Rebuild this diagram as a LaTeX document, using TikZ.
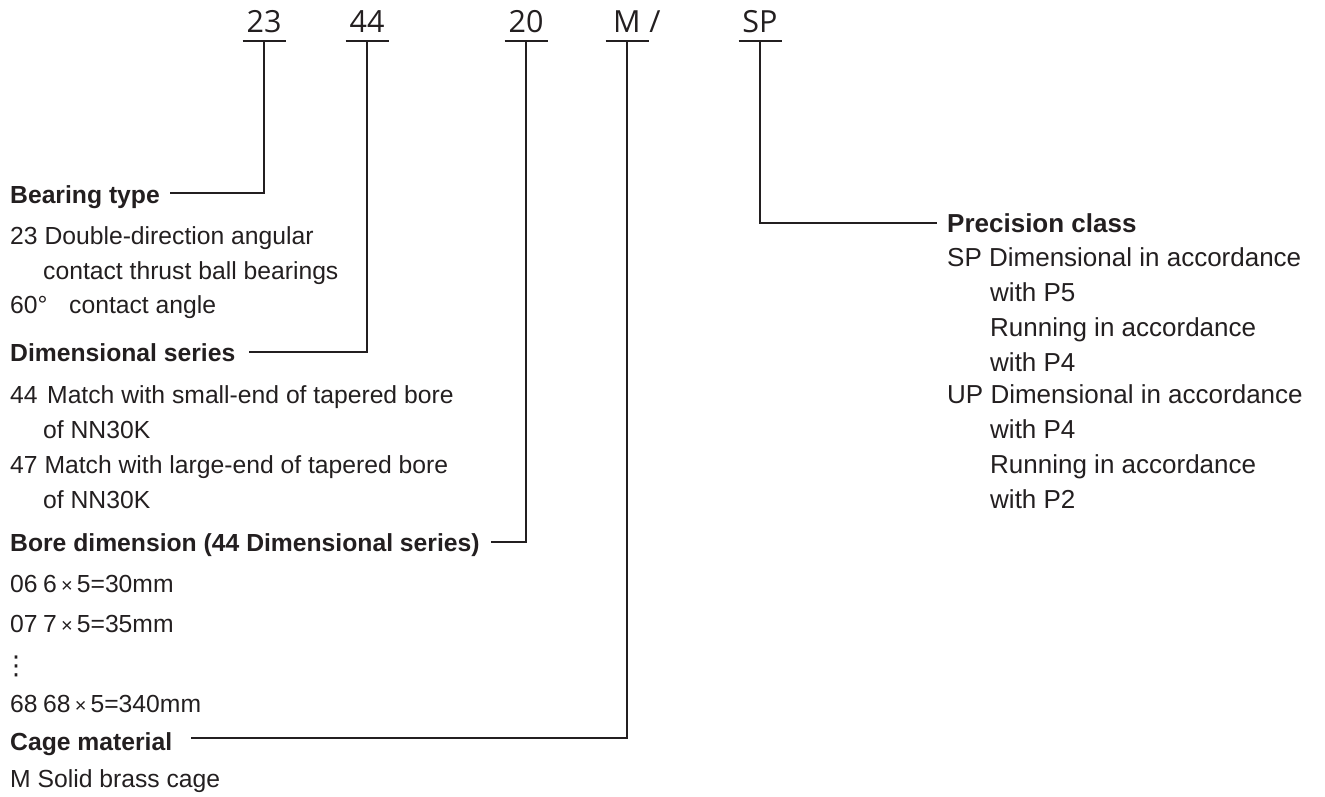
\documentclass[tikz,border=0pt]{standalone}
\usepackage{fontspec}
\setmainfont{Liberation Sans}
\newfontfamily\codefont{Open Sans}
\newfontfamily\symfont{DejaVu Sans}
\usetikzlibrary{calc}
\definecolor{ink}{RGB}{35,31,32}
\begin{document}
\begin{tikzpicture}[x=1pt,y=-1pt,
  txt/.style={anchor=base west,inner sep=0,text=ink,font=\fontsize{24.7}{30}\selectfont},
  head/.style={anchor=base west,inner sep=0,text=ink,font=\fontsize{24.7}{30}\selectfont\bfseries},
  rtxt/.style={anchor=base west,inner sep=0,text=ink,font=\fontsize{26}{30}\selectfont},
  rhead/.style={anchor=base west,inner sep=0,text=ink,font=\fontsize{26}{30}\selectfont\bfseries},
  code/.style={anchor=base,inner sep=0,text=ink,font=\codefont\fontsize{30.5}{36}\selectfont},
  wire/.style={draw=ink,line width=2pt},
  uline/.style={draw=ink,line width=2pt}]
\useasboundingbox (0,0) rectangle (1325,796);

% ---- code letters on top ----
\node[code] (c23) at (264,32) {23};
\node[code] (c44) at (367,32) {44};
\node[code] (c20) at (526,32) {20};
\node[code] (cM)  at (627,32) {M};
\node[code] (cSl) at (655,32) {/};
\node[code] (cSP) at (760,32) {SP};
\coordinate (u23) at (264,41);
\coordinate (u44) at (367,41);
\coordinate (u20) at (526,41);
\coordinate (uM)  at (627,41);
\coordinate (uSP) at (760,41);
\foreach \u in {u23,u44,u20,uM,uSP}
  \draw[uline] ([xshift=-21.5pt]\u) -- ([xshift=21.5pt]\u);

% ---- left column ----
\node[head] (bt) at (10,203) {Bearing type};
\node[txt] (bt1) at (10,244) {23 Double-direction angular};
\node[txt] (bt2) at (43,279) {contact thrust ball bearings};
\node[txt] (bt3) at (10,313) {\makebox[59pt][l]{60°}contact angle};

\node[head] (ds) at (10,361) {Dimensional series};
\node[txt] (ds1) at (10,403) {\makebox[37pt][l]{44}Match with small-end of tapered bore};
\node[txt] (ds2) at (43,438) {of NN30K};
\node[txt] (ds3) at (10,473) {47 Match with large-end of tapered bore};
\node[txt] (ds4) at (43,508) {of NN30K};

\node[head] (bd) at (10,551) {Bore dimension (44 Dimensional series)};
\node[txt] (bd1) at (10,592) {\makebox[33pt][l]{06}6\,{\fontsize{20}{20}\selectfont×}\,5=30mm};
\node[txt] (bd2) at (10,632) {\makebox[33pt][l]{07}7\,{\fontsize{20}{20}\selectfont×}\,5=35mm};
\node[txt] (bd3) at (3,674) {\symfont\fontsize{26}{26}\selectfont ⋮};
\node[txt] (bd4) at (10,712) {\makebox[33pt][l]{68}68\,{\fontsize{20}{20}\selectfont×}\,5=340mm};

\node[head] (cm) at (10,750) {Cage material};
\node[txt] (cm1) at (10,787) {M Solid brass cage};

% ---- right column ----
\node[rhead] (pc) at (947,232) {Precision class};
\node[rtxt] (pc1) at (947,266) {SP Dimensional in accordance};
\node[rtxt] (pc2) at (990,301) {with P5};
\node[rtxt] (pc3) at (990,336) {Running in accordance};
\node[rtxt] (pc4) at (990,371) {with P4};
\node[rtxt] (pc5) at (947,403) {UP Dimensional in accordance};
\node[rtxt] (pc6) at (990,438) {with P4};
\node[rtxt] (pc7) at (990,473) {Running in accordance};
\node[rtxt] (pc8) at (990,508) {with P2};

% ---- connectors ----
\draw[wire] (u23) |- ($(bt.base east)+(10,-10)$);
\draw[wire] (u44) |- ($(ds.base east)+(13,-9)$);
\draw[wire] (u20) |- ($(bd.base east)+(11,-9)$);
\draw[wire] (uM)  |- ($(cm.base east)+(19,-12)$);
\draw[wire] (uSP) |- ($(pc.base west)+(-10,-9)$);
\end{tikzpicture}
\end{document}
